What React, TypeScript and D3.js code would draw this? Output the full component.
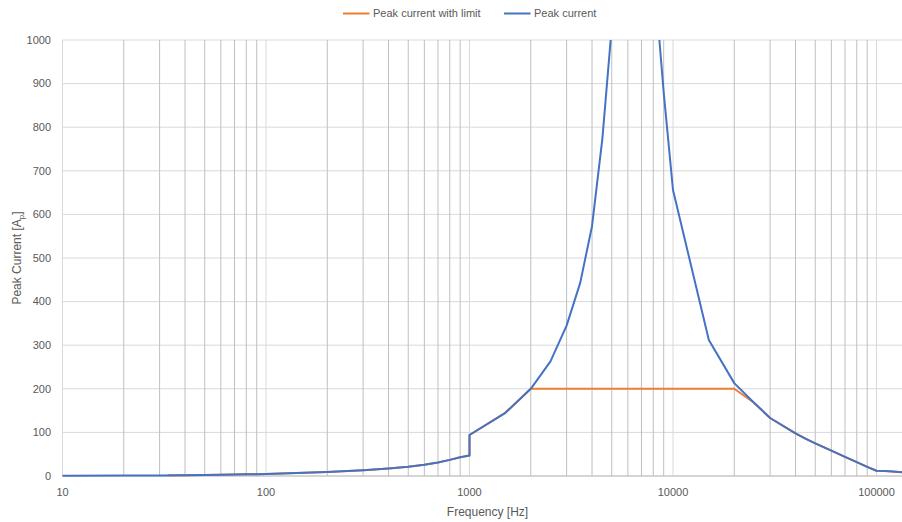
import React from "react";
import * as d3 from "d3";

const freqPeak = [10, 20, 30, 40, 50, 60, 70, 80, 90, 100, 200, 300, 400, 500, 600, 700, 800, 900, 1000, 1000, 1500, 2000, 2500, 3000, 3500, 4000, 4500, 5000, 6000, 7000, 8000, 9000, 10000, 15000, 20000, 25000, 30000, 40000, 45000, 50000, 60000, 70000, 80000, 90000, 100000, 110000, 120000, 140000];
const peakCurrent = [0.5, 0.9, 1.4, 1.9, 2.3, 2.8, 3.3, 3.8, 4.2, 4.7, 9, 13, 17, 21, 26, 31, 37, 43, 47, 94, 145, 200, 263, 345, 443, 573, 775, 1030, 2600, 3400, 1170, 880, 656, 312, 213, 168, 133, 98, 85, 75, 58, 44, 32, 21, 12, 11.5, 10.5, 8];

const freqLimit = [33, 40, 50, 60, 70, 80, 90, 100, 200, 300, 400, 500, 600, 700, 800, 900, 1000, 1000, 1500, 2000, 20000, 25000, 30000, 40000, 45000, 50000, 60000, 70000, 80000, 90000, 100000, 110000, 120000, 140000];
const peakCurrentLimit = [1.6, 1.9, 2.3, 2.8, 3.3, 3.8, 4.2, 4.7, 9, 13, 17, 21, 26, 31, 37, 43, 47, 94, 145, 200, 200, 168, 133, 98, 85, 75, 58, 44, 32, 21, 12, 11.5, 10.5, 8];

const yTicks = [0, 100, 200, 300, 400, 500, 600, 700, 800, 900, 1000];
const xTickLabels = [10, 100, 1000, 10000, 100000];
const seriesNames = ["Peak current with limit", "Peak current"];

const W = 902;
const H = 522;
const X0 = 62.5;
const DEC = 203.5;
const YTOP = 40;
const YBOT = 476;
const FONT = "'Liberation Sans', Arial, sans-serif";
const TXT = "#595959";

export default function App() {
  const x = d3.scaleLog().domain([10, 1e6]).range([X0, X0 + 5 * DEC]);
  const y = d3.scaleLinear().domain([0, 1000]).range([YBOT, YTOP]);

  const gridF: { f: number; major: boolean }[] = [];
  for (let d = 1; d <= 5; d++) {
    for (let k = 1; k <= 9; k++) {
      const f = k * Math.pow(10, d);
      if (x(f) <= W) gridF.push({ f, major: k === 1 });
    }
  }

  const line = d3
    .line<[number, number]>()
    .x((d) => x(d[0]))
    .y((d) => y(d[1]));

  const blue = line(freqPeak.map((f, i) => [f, peakCurrent[i]] as [number, number])) || "";
  const orange = line(freqLimit.map((f, i) => [f, peakCurrentLimit[i]] as [number, number])) || "";

  return (
    <svg
      width={W}
      height={H}
      style={{ position: "fixed", left: 0, top: 0, background: "#fff" }}
      fontFamily={FONT}
    >
      <defs>
        <clipPath id="plot">
          <rect x={X0 - 2} y={YTOP} width={W - X0 + 2} height={YBOT - YTOP + 2} />
        </clipPath>
      </defs>
      <rect x={0} y={0} width={W} height={H} fill="#fff" />
      {yTicks.map((t) => (
        <line key={"h" + t} x1={X0} x2={W} y1={y(t)} y2={y(t)} stroke="#d9d9d9" strokeWidth={1} />
      ))}
      {gridF.map((g) => (
        <line
          key={"v" + g.f}
          x1={x(g.f)}
          x2={x(g.f)}
          y1={YTOP}
          y2={YBOT}
          stroke={g.major ? "#d9d9d9" : "#bfbfbf"}
          strokeWidth={1}
        />
      ))}
      <line x1={X0} x2={X0} y1={YTOP} y2={YBOT} stroke="#d9d9d9" strokeWidth={1} />
      <line x1={X0} x2={W} y1={YBOT} y2={YBOT} stroke="#bfbfbf" strokeWidth={1} />
      <g clipPath="url(#plot)">
        <path d={orange} fill="none" stroke="#ED7D31" strokeWidth={2} strokeLinejoin="round" />
        <path d={blue} fill="none" stroke="#4472C4" strokeWidth={2} strokeLinejoin="round" />
      </g>
      {yTicks.map((t) => (
        <text key={"yt" + t} x={51} y={y(t)} dy="0.35em" textAnchor="end" fontSize={11} fill={TXT}>
          {t}
        </text>
      ))}
      {xTickLabels.map((t) => (
        <text key={"xt" + t} x={x(t)} y={492} dy="0.35em" textAnchor="middle" fontSize={11} fill={TXT}>
          {t}
        </text>
      ))}
      <text x={487.5} y={512} dy="0.35em" textAnchor="middle" fontSize={12} fill={TXT}>
        Frequency [Hz]
      </text>
      <text
        transform={`translate(17, 258) rotate(-90)`}
        textAnchor="middle"
        dy="0.35em"
        fontSize={12}
        fill={TXT}
      >
        Peak Current [A<tspan fontSize={8} dy="3">p</tspan>
        <tspan dy="-3">]</tspan>
      </text>
      <g>
        <line x1={343} x2={369.5} y1={13.5} y2={13.5} stroke="#ED7D31" strokeWidth={2} />
        <text x={373} y={13.5} dy="0.35em" fontSize={11} fill={TXT}>
          {seriesNames[0]}
        </text>
        <line x1={504} x2={530.5} y1={13.5} y2={13.5} stroke="#4472C4" strokeWidth={2} />
        <text x={534} y={13.5} dy="0.35em" fontSize={11} fill={TXT}>
          {seriesNames[1]}
        </text>
      </g>
    </svg>
  );
}
